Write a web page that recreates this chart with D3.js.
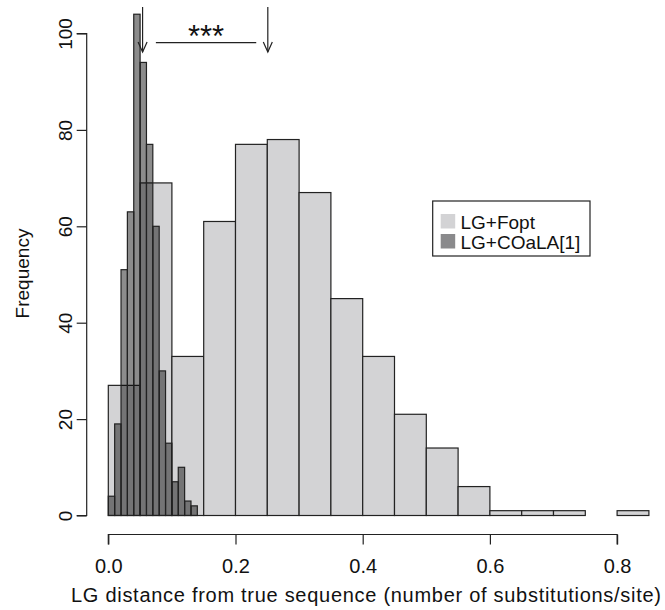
<!DOCTYPE html>
<html>
<head>
<meta charset="utf-8">
<script src="https://cdn.jsdelivr.net/npm/d3@7"></script>
<style>
  html, body { margin: 0; padding: 0; background: #fff; }
  svg { display: block; font-family: "Liberation Sans", Arial, Helvetica, sans-serif; }
</style>
</head>
<body>
<svg id="chart" width="665" height="610"></svg>
<script>
// ---- data ----
const foptBinStarts = [0.00, 0.05, 0.10, 0.15, 0.20, 0.25, 0.30, 0.35, 0.40, 0.45, 0.50, 0.55, 0.60, 0.65, 0.70, 0.75, 0.80];
const foptCounts    = [27, 69, 33, 61, 77, 78, 67, 45, 33, 21, 14, 6, 1, 1, 1, 0, 1];
const foptBinWidth  = 0.05;

const coalaBinStarts = [0.00, 0.01, 0.02, 0.03, 0.04, 0.05, 0.06, 0.07, 0.08, 0.09, 0.10, 0.11, 0.12, 0.13];
const coalaCounts    = [4, 19, 51, 63, 104, 94, 77, 60, 30, 15, 7, 10, 3, 2];
const coalaBinWidth  = 0.01;

const xTicks = [0.0, 0.2, 0.4, 0.6, 0.8];
const yTicks = [0, 20, 40, 60, 80, 100];
const seriesNames = ["LG+Fopt", "LG+COaLA[1]"];

// annotation: arrows at means, bracket between, significance label
const arrowValues = [0.0539, 0.2508];
const bracketRange = [0.0748, 0.2326];
const signifLabel = "***";
const xTitle = "LG distance from true sequence (number of substitutions/site)";
const yTitle = "Frequency";

// ---- layout ----
const svg = d3.select("#chart");
const FS = 19;
const lightFill = "#d3d3d5";
const darkFill = "rgba(0,0,0,0.45)";
const stroke = "#222";

const x = d3.scaleLinear().domain([0, 0.8]).range([108.3, 108.3 + 0.8 * 636]);
const y = d3.scaleLinear().domain([0, 100]).range([515.5, 33.5]);
const xAxisY = 534.5;
const yAxisX = 86.7;

// light histogram
const foptData = foptBinStarts.map((s, i) => ({ s, c: foptCounts[i] })).filter(d => d.c > 0);
svg.append("g").selectAll("rect").data(foptData).join("rect")
  .attr("x", d => x(d.s))
  .attr("width", d => x(d.s + foptBinWidth) - x(d.s))
  .attr("y", d => y(d.c))
  .attr("height", d => y(0) - y(d.c))
  .attr("fill", lightFill)
  .attr("stroke", stroke)
  .attr("stroke-width", 1.2);

// dark histogram (semi-transparent)
const coalaData = coalaBinStarts.map((s, i) => ({ s, c: coalaCounts[i] })).filter(d => d.c > 0);
svg.append("g").selectAll("rect").data(coalaData).join("rect")
  .attr("x", d => x(d.s))
  .attr("width", d => x(d.s + coalaBinWidth) - x(d.s))
  .attr("y", d => y(d.c))
  .attr("height", d => y(0) - y(d.c))
  .attr("fill", darkFill)
  .attr("stroke", stroke)
  .attr("stroke-width", 1.2);

// x axis
const xAxis = d3.axisBottom(x).tickValues(xTicks).tickFormat(d3.format(".1f")).tickSize(10).tickPadding(14).tickSizeOuter(0);
const gx = svg.append("g").attr("transform", `translate(0,${xAxisY})`).call(xAxis);
gx.select(".domain").attr("stroke", stroke).attr("stroke-width", 1.2).attr("d", `M${x(0)},10V0H${x(0.8)}V10`);
gx.selectAll(".tick line").attr("stroke", stroke).attr("stroke-width", 1.2);
gx.selectAll(".tick text").attr("font-size", 20).attr("fill", "#111").attr("font-family", null).attr("dy", null).attr("y", 38);

// y axis
const yAxis = d3.axisLeft(y).tickValues(yTicks).tickSize(10).tickPadding(0).tickSizeOuter(0);
const gy = svg.append("g").attr("transform", `translate(${yAxisX},0)`).call(yAxis);
gy.select(".domain").attr("stroke", stroke).attr("stroke-width", 1.2).attr("d", `M-10,${y(0)}H0V${y(100)}H-10`);
gy.selectAll(".tick line").attr("stroke", stroke).attr("stroke-width", 1.2);
gy.selectAll(".tick text")
  .attr("font-size", FS).attr("fill", "#111").attr("font-family", null)
  .attr("x", null).attr("dy", null)
  .attr("text-anchor", "middle")
  .attr("transform", "translate(-15,0) rotate(-90)");

// axis titles
svg.append("text")
  .attr("x", 366).attr("y", 602)
  .attr("text-anchor", "middle").attr("font-size", 20).attr("fill", "#111")
  .attr("textLength", 590).attr("lengthAdjust", "spacing")
  .text(xTitle);
svg.append("text")
  .attr("transform", `translate(29,${(y(0) + y(100)) / 2 - 1}) rotate(-90)`)
  .attr("text-anchor", "middle").attr("font-size", FS).attr("fill", "#111")
  .text(yTitle);

// arrows
const arrowTop = 7, arrowTip = 52;
const ag = svg.append("g").attr("stroke", stroke).attr("stroke-width", 1.2).attr("fill", "none");
arrowValues.forEach(v => {
  const ax = x(v);
  ag.append("line").attr("x1", ax).attr("x2", ax).attr("y1", arrowTop).attr("y2", arrowTip);
  ag.append("path").attr("d", `M${ax - 4.5},${arrowTip - 10}L${ax},${arrowTip}L${ax + 4.5},${arrowTip - 10}`);
});
ag.append("line")
  .attr("x1", x(bracketRange[0])).attr("x2", x(bracketRange[1]))
  .attr("y1", 42.7).attr("y2", 42.7);
svg.append("text")
  .attr("x", (x(bracketRange[0]) + x(bracketRange[1])) / 2)
  .attr("y", 46.5)
  .attr("text-anchor", "middle").attr("font-size", 31).attr("fill", "#111")
  .text(signifLabel);

// legend
const lg = svg.append("g");
lg.append("rect").attr("x", 432.7).attr("y", 201).attr("width", 157.3).attr("height", 55)
  .attr("fill", "#fff").attr("stroke", stroke).attr("stroke-width", 1.2);
const legFills = [lightFill, "#8a8a8c"];
seriesNames.forEach((n, i) => {
  lg.append("rect").attr("x", 440.7).attr("y", 214 + i * 20).attr("width", 14.5).attr("height", 14.5)
    .attr("fill", legFills[i]);
  lg.append("text").attr("x", 460.5).attr("y", 228.5 + i * 20)
    .attr("font-size", FS).attr("fill", "#111").text(n);
});
</script>
</body>
</html>
